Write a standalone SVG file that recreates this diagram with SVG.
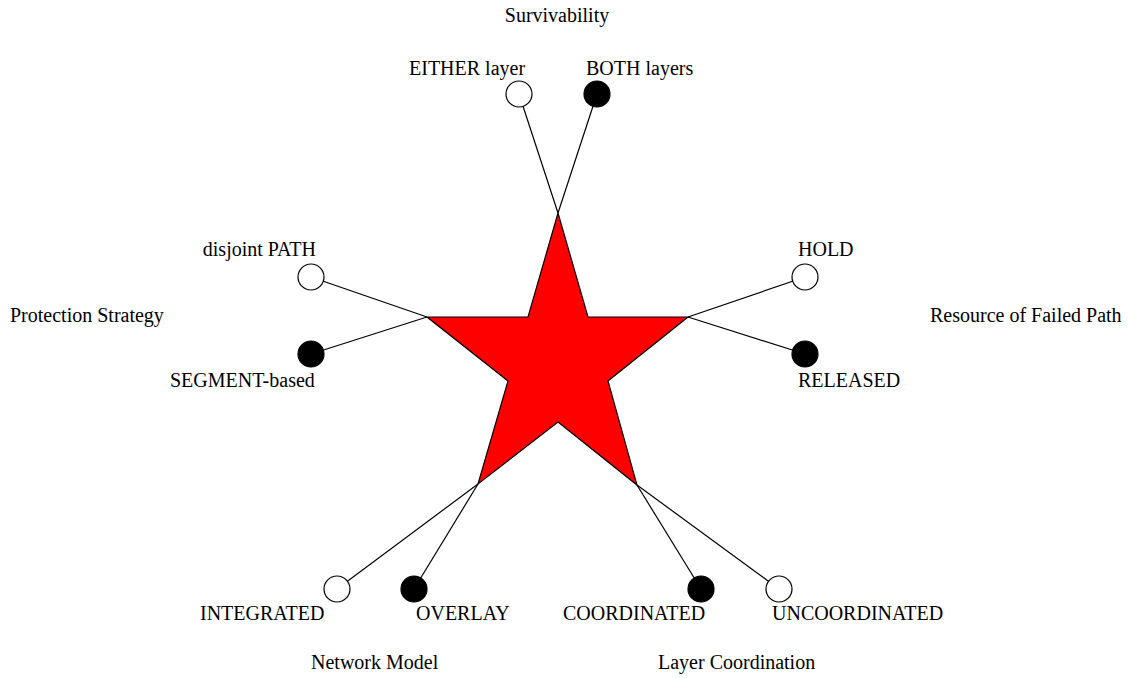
<svg xmlns="http://www.w3.org/2000/svg" width="1129" height="678" viewBox="0 0 1129 678">
  <style>
    text { font-family: "Liberation Serif", "Times New Roman", serif; font-size: 20px; fill: #000; }
    .link { stroke: #000; stroke-width: 1.2; fill: none; }
    .open { fill: #fff; stroke: #000; stroke-width: 1.2; }
    .solid { fill: #000; stroke: #000; stroke-width: 1.2; }
  </style>
  <rect width="1129" height="678" fill="#fff"/>

  <!-- spokes from star tips to option circles -->
  <g id="connectors">
    <line class="link" x1="558" y1="213" x2="519" y2="94"/>
    <line class="link" x1="558" y1="213" x2="597" y2="94"/>
    <line class="link" x1="427" y1="317" x2="311" y2="277"/>
    <line class="link" x1="427" y1="317" x2="311" y2="354"/>
    <line class="link" x1="688" y1="317" x2="805" y2="277"/>
    <line class="link" x1="688" y1="317" x2="805" y2="354"/>
    <line class="link" x1="478" y1="484" x2="337" y2="589"/>
    <line class="link" x1="478" y1="484" x2="414" y2="589"/>
    <line class="link" x1="637" y1="485" x2="701" y2="589"/>
    <line class="link" x1="637" y1="485" x2="779" y2="589"/>
  </g>

  <g id="star">
    <polygon points="558,213 588,317 688,317 608,381 637,485 558,422 478,484 508,381 427,317 528,317" fill="#ff0000" stroke="#000" stroke-width="1.2" stroke-linejoin="miter"/>
  </g>

  <!-- dimension titles -->
  <g id="dim-survivability"><text x="557" y="22" text-anchor="middle">Survivability</text></g>
  <g id="dim-protection"><text x="10" y="322">Protection Strategy</text></g>
  <g id="dim-resource"><text x="930" y="322">Resource of Failed Path</text></g>
  <g id="dim-network"><text x="311" y="669">Network Model</text></g>
  <g id="dim-coordination"><text x="658" y="669">Layer Coordination</text></g>

  <!-- options -->
  <g id="opt-either">
    <circle class="open" cx="519" cy="94" r="13"/>
    <text x="409" y="75">EITHER layer</text>
  </g>
  <g id="opt-both">
    <circle class="solid" cx="597" cy="94" r="13"/>
    <text x="586" y="75">BOTH layers</text>
  </g>
  <g id="opt-disjoint">
    <circle class="open" cx="311" cy="277" r="13"/>
    <text x="316" y="256" text-anchor="end">disjoint PATH</text>
  </g>
  <g id="opt-segment">
    <circle class="solid" cx="311" cy="354" r="13"/>
    <text x="170" y="387">SEGMENT-based</text>
  </g>
  <g id="opt-hold">
    <circle class="open" cx="805" cy="277" r="13"/>
    <text x="798" y="256">HOLD</text>
  </g>
  <g id="opt-released">
    <circle class="solid" cx="805" cy="354" r="13"/>
    <text x="798" y="387">RELEASED</text>
  </g>
  <g id="opt-integrated">
    <circle class="open" cx="337" cy="589" r="13"/>
    <text x="200" y="620">INTEGRATED</text>
  </g>
  <g id="opt-overlay">
    <circle class="solid" cx="414" cy="589" r="13"/>
    <text x="416" y="620">OVERLAY</text>
  </g>
  <g id="opt-coordinated">
    <circle class="solid" cx="701" cy="589" r="13"/>
    <text x="563" y="620">COORDINATED</text>
  </g>
  <g id="opt-uncoordinated">
    <circle class="open" cx="779" cy="589" r="13"/>
    <text x="772" y="620">UNCOORDINATED</text>
  </g>
</svg>
